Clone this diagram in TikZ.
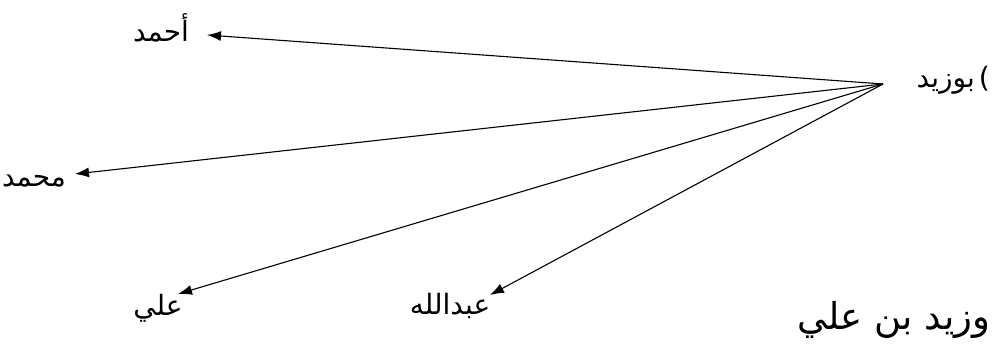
\documentclass[tikz,border=0pt]{standalone}
\usepackage{fontspec}
\newfontfamily\arabicfont[Script=Arabic]{DejaVu Sans}
\TeXXeTstate=1
\usetikzlibrary{arrows.meta}
\begin{document}
\begin{tikzpicture}[x=1pt,y=-1pt,
  lab/.style={font=\arabicfont\fontsize{28}{33}\selectfont, inner sep=0pt},
  big/.style={font=\arabicfont\fontsize{37}{44}\selectfont, inner sep=0pt},
  arr/.style={-{Latex[length=14pt,width=10pt]}, line width=1.1pt}]
\useasboundingbox (0,0) rectangle (993,350);
\node[lab, anchor=east] (src) at (990,80) {\beginR بوزيد\endR\kern4pt)};
\coordinate (o) at (883,84);
\node[lab] (ahmad) at (161,28) {\beginR أحمد\endR};
\node[lab] (muhammad) at (34,181) {\beginR محمد\endR};
\node[lab] (ali) at (158,308) {\beginR علي\endR};
\node[lab] (abdallah) at (450,306) {\beginR عبدالله\endR};
\node[big] (zayd) at (894,320) {\beginR وزيد بن علي\endR};
\coordinate (ta) at (207,35);
\coordinate (tm) at (75,174);
\coordinate (tl) at (178,294);
\coordinate (tb) at (490,295);
\draw[arr] (o) -- (ta);
\draw[arr] (o) -- (tm);
\draw[arr] (o) -- (tl);
\draw[arr] (o) -- (tb);
\end{tikzpicture}
\end{document}
